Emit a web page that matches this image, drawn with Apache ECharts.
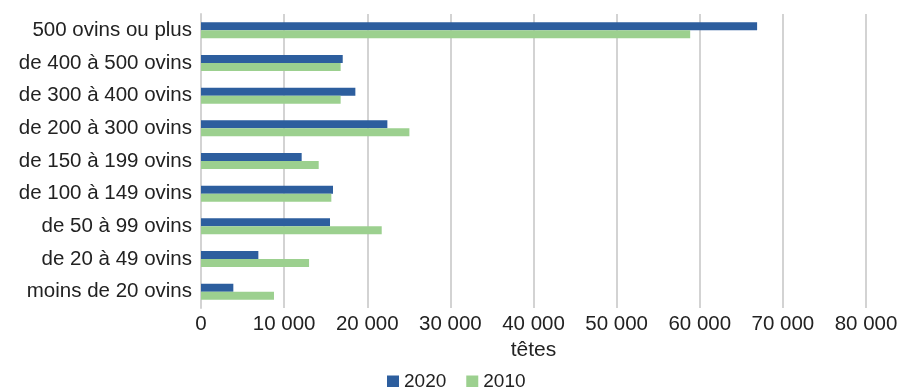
<!DOCTYPE html>
<html><head><meta charset="utf-8">
<script src="https://cdn.jsdelivr.net/npm/echarts@6/dist/echarts.min.js"></script>
<style>html,body{margin:0;padding:0;background:#fff}#c{width:901px;height:387px}</style>
</head><body><div id="c"></div>
<script>
const categories = ["500 ovins ou plus","de 400 à 500 ovins","de 300 à 400 ovins","de 200 à 300 ovins","de 150 à 199 ovins","de 100 à 149 ovins","de 50 à 99 ovins","de 20 à 49 ovins","moins de 20 ovins"];
const values2020 = [66900, 17050, 18570, 22420, 12110, 15880, 15520, 6900, 3890];
const values2010 = [58850, 16800, 16800, 25070, 14160, 15680, 21740, 13000, 8780];
const seriesNames = ["2020", "2010"];
const axisTitle = "têtes";

const chart = echarts.init(document.getElementById('c'));
const font = "'Liberation Sans', Arial, sans-serif";
chart.setOption({
  animation: false,
  textStyle: {fontFamily: font},
  grid: {left: 201, right: 35, top: 14, bottom: 79, containLabel: false},
  legend: {
    data: seriesNames, top: 367, left: 382, padding: 5,
    itemWidth: 12, itemHeight: 12, itemGap: 20,
    icon: 'rect',
    textStyle: {fontSize: 19, color: '#222', fontFamily: font}
  },
  xAxis: {
    type: 'value', min: 0, max: 80000, interval: 10000,
    name: axisTitle, nameLocation: 'middle', nameGap: 29,
    nameTextStyle: {fontSize: 21, color: '#222'},
    axisLabel: {fontSize: 20.5, color: '#222', margin: 6,
      formatter: v => v === 0 ? '0' : String(v).replace(/\B(?=(\d{3})+(?!\d))/g, ' ')},
    axisLine: {show: false},
    axisTick: {show: false},
    splitLine: {show: true, lineStyle: {color: '#d3d3d3', width: 2}}
  },
  yAxis: {
    type: 'category', data: categories, inverse: true,
    axisLabel: {fontSize: 20.5, color: '#222', margin: 9},
    axisLine: {show: true, lineStyle: {color: '#d3d3d3', width: 2}},
    axisTick: {show: false}
  },
  series: [
    {name: seriesNames[0], type: 'bar', data: values2020, barWidth: 8, barGap: '0%',
     itemStyle: {color: '#2d5e9e'}},
    {name: seriesNames[1], type: 'bar', data: values2010, barWidth: 8, barGap: '0%',
     itemStyle: {color: '#9cd08f'}}
  ]
});
</script></body></html>
